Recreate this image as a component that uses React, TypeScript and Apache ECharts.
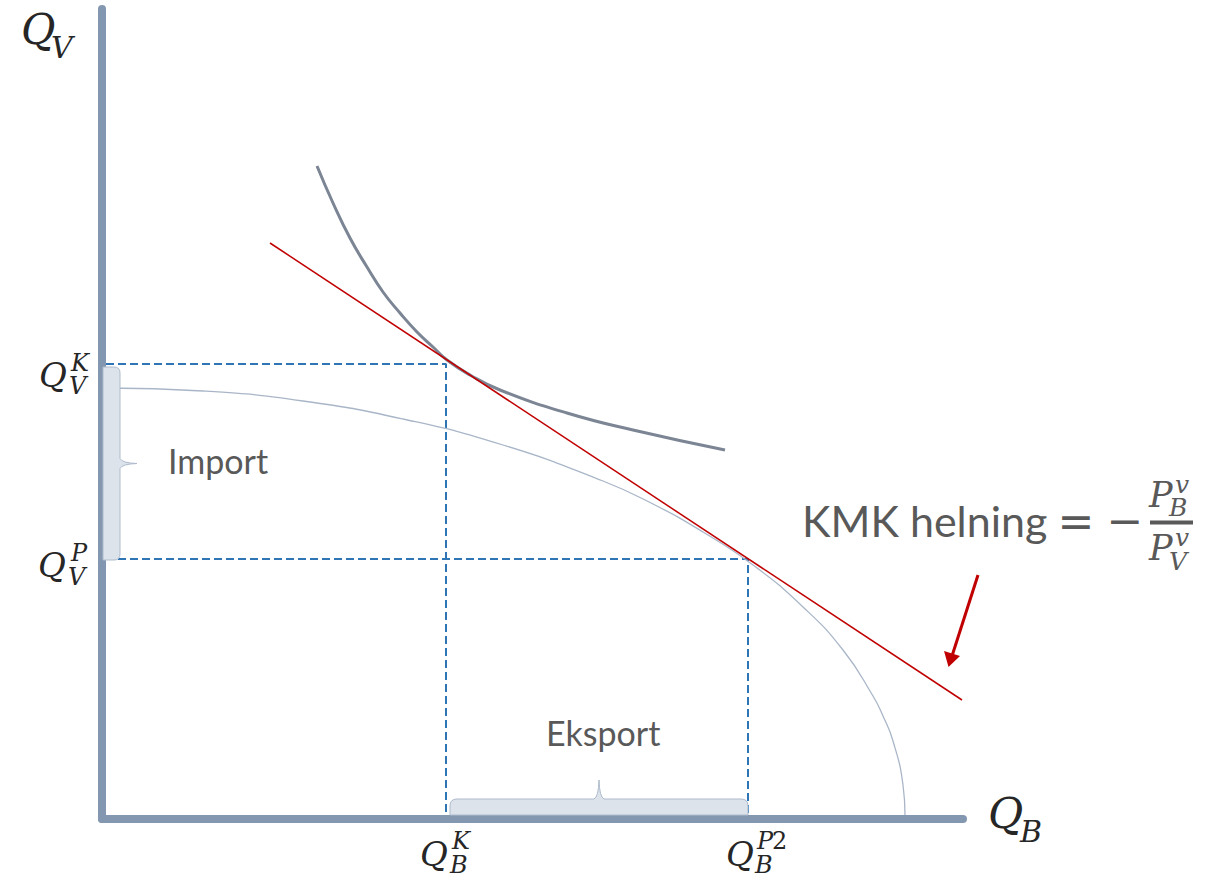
import React, { useEffect, useRef } from "react";
import * as echarts from "echarts";

// Axis extent (abstract quantity units)
const X_MAX = 861;
const Y_MAX = 810;

// Production possibility frontier (Q_B, Q_V)
const ppfCurve: [number, number][] = [
  [4, 431], [101, 428], [201, 418], [301, 400], [401, 374], [501, 338],
  [551, 315], [601, 287], [651, 254], [701, 212], [741, 169], [771, 123],
  [781, 103], [791, 78], [801, 34], [803, 4],
];

// Indifference curve
const indifferenceCurve: [number, number][] = [
  [215, 653], [231, 616], [248, 581], [265, 552], [281, 527], [298, 506],
  [315, 487], [331, 472], [345, 459], [368, 444], [398, 429], [465, 406],
  [531, 389], [623, 369],
];

// World price line (KMK)
const priceLine: [number, number][] = [[168, 576], [860, 119]];

// Consumption (K) and production (P) points
const consumptionPoint: [number, number] = [344, 455];
const productionPoint: [number, number] = [646, 260];

const MATH = "DejaVu Serif";
const SANS = "Lato";
const DARK = "#262626";
const GREY = "#595959";

export default function App() {
  const ref = useRef<HTMLDivElement>(null);

  useEffect(() => {
    document.body.style.margin = "0";
    const chart = echarts.init(ref.current!, null, { renderer: "svg" });

    const dashedK = [
      [4, consumptionPoint[1]],
      consumptionPoint,
      [consumptionPoint[0], 4],
    ];
    const dashedP = [
      [4, productionPoint[1]],
      productionPoint,
      [productionPoint[0], 4],
    ];

    const axisStyle = { color: "#8497b0", width: 8 };

    chart.setOption({
      animation: false,
      grid: { left: 102, top: 9, width: X_MAX, height: Y_MAX, containLabel: false },
      xAxis: {
        type: "value", min: 0, max: X_MAX,
        axisLine: { show: true, lineStyle: axisStyle },
        axisTick: { show: false }, axisLabel: { show: false }, splitLine: { show: false },
      },
      yAxis: {
        type: "value", min: 0, max: Y_MAX,
        axisLine: { show: true, lineStyle: axisStyle },
        axisTick: { show: false }, axisLabel: { show: false }, splitLine: { show: false },
      },
      series: [
        {
          type: "line", data: dashedK, symbol: "none", silent: true,
          lineStyle: { color: "#2e75b6", width: 2, type: [8, 4] },
        },
        {
          type: "line", data: dashedP, symbol: "none", silent: true,
          lineStyle: { color: "#2e75b6", width: 2, type: [8, 4] },
        },
        {
          type: "line", data: ppfCurve, symbol: "none", smooth: true,
          lineStyle: { color: "#a9b6c8", width: 1.3 },
        },
        {
          type: "line", data: indifferenceCurve, symbol: "none", smooth: true,
          lineStyle: { color: "#7b8594", width: 3 },
        },
        {
          type: "line", data: priceLine, symbol: "none",
          lineStyle: { color: "#c00000", width: 1.5 },
        },
      ],
    });

    const toPx = (p: number[]) => chart.convertToPixel({ gridIndex: 0 }, p) as number[];
    const [kx, ky] = toPx(consumptionPoint);
    const [px, py] = toPx(productionPoint);
    const [ox, oy] = toPx([0, 0]);
    const axisTop = oy - 4;
    const axisRight = ox + 1;

    // Import brace (vertical, along Q_V axis)
    const bt = ky + 3, bb = py + 1, br = axisRight + 17, mid = (bt + bb) / 2;
    const dImport =
      `M ${axisRight} ${bt} L ${br - 6} ${bt} Q ${br} ${bt} ${br} ${bt + 6} ` +
      `L ${br} ${mid - 5} Q ${br + 2} ${mid - 0.5} ${br + 17} ${mid} Q ${br + 2} ${mid + 0.5} ${br} ${mid + 5} ` +
      `L ${br} ${bb - 6} Q ${br} ${bb} ${br - 6} ${bb} L ${axisRight} ${bb} Z`;
    // Eksport brace (horizontal, along Q_B axis)
    const el = kx + 4, er = px, et = axisTop - 16, emid = (el + er) / 2;
    const dExport =
      `M ${el} ${axisTop} L ${el} ${et + 7} Q ${el} ${et} ${el + 7} ${et} ` +
      `L ${emid - 5} ${et} Q ${emid - 0.5} ${et - 2} ${emid} ${et - 19} Q ${emid + 0.5} ${et - 2} ${emid + 5} ${et} ` +
      `L ${er - 7} ${et} Q ${er} ${et} ${er} ${et + 7} L ${er} ${axisTop} Z`;
    echarts.graphic.registerShape("braceImport", echarts.graphic.extendPath(dImport, {}));
    echarts.graphic.registerShape("braceExport", echarts.graphic.extendPath(dExport, {}));

    const txt = (
      text: string, x: number, y: number, size: number,
      opts: { family?: string; italic?: boolean; fill?: string; align?: string } = {}
    ) => ({
      type: "text", x, y, z: 100,
      style: {
        text,
        fontSize: size,
        fontFamily: opts.family ?? MATH,
        fontStyle: opts.italic === false ? "normal" : "italic",
        fill: opts.fill ?? DARK,
        align: opts.align ?? "left",
        verticalAlign: "middle",
      },
    });

    const braceStyle = { fill: "#dde3eb", stroke: "#aebbcc", lineWidth: 1 };

    chart.setOption({
      graphic: [
        { type: "braceImport", z: 50, style: braceStyle },
        { type: "braceExport", z: 50, style: braceStyle },
        // axis titles
        txt("Q", 21, 29, 42), txt("V", 51, 47, 30),
        txt("Q", 988, 813, 43), txt("B", 1020, 831, 30),
        // Q_V^K, Q_V^P
        txt("Q", 39, 375, 34), txt("K", 71, 363, 24), txt("V", 69, 386, 24),
        txt("Q", 38, 565, 34), txt("P", 71, 553, 24), txt("V", 68, 577, 24),
        // Q_B^K, Q_B^P2
        txt("Q", 420, 854, 34), txt("K", 452, 841, 24), txt("B", 450, 865, 24),
        txt("Q", 726, 854, 34), txt("P", 757, 841, 24),
        txt("2", 772, 841, 24, { italic: false }), txt("B", 755, 865, 24),
        // region labels
        txt("Import", 168, 460, 34, { family: SANS, italic: false, fill: GREY }),
        txt("Eksport", 546, 732, 34, { family: SANS, italic: false, fill: GREY }),
        // slope formula
        txt("KMK helning", 802, 520, 43, { family: SANS, italic: false, fill: GREY }),
        txt("=", 1076, 521, 44, { family: "DejaVu Sans", italic: false, fill: GREY, align: "center" }),
        txt("\u2212", 1125, 520, 44, { family: "DejaVu Sans", italic: false, fill: GREY, align: "center" }),
        {
          type: "rect", z: 100,
          shape: { x: 1150, y: 520.5, width: 43, height: 4 },
          style: { fill: GREY },
        },
        txt("P", 1149, 495, 35, { fill: GREY }), txt("v", 1175, 484, 25, { fill: GREY }),
        txt("B", 1169, 507, 25, { fill: GREY }),
        txt("P", 1149, 548, 35, { fill: GREY }), txt("v", 1175, 537, 25, { fill: GREY }),
        txt("V", 1169, 561, 25, { fill: GREY }),
        // arrow
        {
          type: "line", z: 90,
          shape: { x1: 978, y1: 575, x2: 952, y2: 656 },
          style: { stroke: "#c00000", lineWidth: 3 },
        },
        {
          type: "polygon", z: 90,
          shape: { points: [[948.5, 667], [944, 651], [960, 656]] },
          style: { fill: "#c00000" },
        },
      ],
    });

    return () => chart.dispose();
  }, []);

  return (
    <div
      ref={ref}
      style={{ position: "absolute", left: 0, top: 0, width: 1206, height: 881 }}
    />
  );
}
